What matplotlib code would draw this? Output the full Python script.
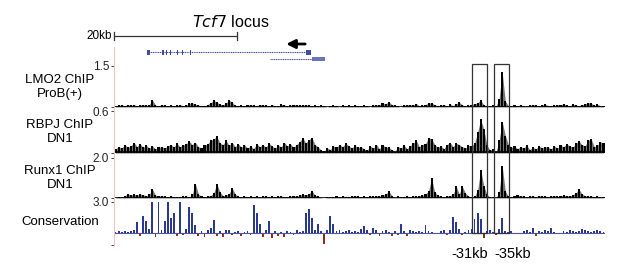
import numpy as np
import matplotlib.pyplot as plt
from matplotlib.patches import Rectangle
from matplotlib.lines import Line2D
import matplotlib.transforms as mtransforms

plt.rcParams['font.family'] = ['Liberation Sans', 'DejaVu Sans']

# genomic window in kb, 0.5 kb bins
region_kb = 80
bin_kb = 0.5

# LMO2 ChIP ProB(+) signal (x0.01)
lmo2 = [3, 6, 8, 5, 9, 6, 8, 5, 7, 9, 6, 8, 26, 7, 5, 8,
        6, 5, 7, 4, 6, 8, 5, 6, 14, 15, 10, 8, 2, 3, 9, 16,
        24, 18, 10, 8, 14, 26, 17, 6, 5, 6, 4, 7, 8, 6, 5, 9,
        7, 6, 4, 8, 5, 3, 10, 7, 4, 6, 9, 8, 6, 7, 8, 6,
        5, 7, 2, 6, 4, 0, 5, 6, 4, 0, 7, 3, 6, 2, 8, 4,
        2, 6, 4, 0, 7, 8, 9, 14, 10, 20, 9, 6, 2, 0, 6, 9,
        8, 7, 12, 5, 6, 9, 14, 16, 8, 4, 6, 9, 3, 10, 5, 12,
        18, 8, 3, 6, 9, 12, 16, 24, 8, 4, 2, 6, 4, 30, 128, 22,
        5, 3, 6, 5, 8, 4, 2, 6, 9, 7, 3, 8, 10, 5, 2, 6,
        9, 8, 12, 6, 4, 10, 7, 5, 8, 12, 16, 14, 6, 10, 5, 3]

# RBPJ ChIP DN1 signal (x0.01)
rbpj = [6, 9, 7, 12, 8, 10, 15, 9, 13, 8, 11, 7, 10, 6, 8, 9,
        7, 10, 12, 8, 14, 9, 11, 13, 17, 12, 15, 9, 7, 11, 13, 18,
        20, 24, 14, 12, 18, 11, 15, 9, 13, 8, 12, 7, 10, 6, 13, 9,
        12, 8, 14, 10, 7, 11, 9, 15, 10, 13, 8, 12, 16, 22, 14, 19,
        22, 12, 9, 4, 3, 7, 5, 10, 8, 12, 9, 14, 10, 7, 11, 8,
        9, 6, 4, 10, 7, 12, 6, 11, 9, 8, 5, 2, 9, 7, 11, 6,
        10, 14, 18, 9, 12, 13, 22, 20, 12, 8, 10, 6, 12, 15, 9, 14,
        12, 9, 7, 11, 10, 14, 30, 48, 34, 12, 4, 6, 2, 18, 45, 25,
        12, 8, 10, 6, 9, 7, 11, 5, 8, 6, 10, 7, 9, 8, 6, 10,
        7, 11, 9, 13, 10, 8, 14, 17, 12, 10, 18, 20, 9, 11, 16, 14]

# Runx1 ChIP DN1 signal (x0.01)
runx1 = [2, 3, 4, 12, 20, 15, 18, 14, 20, 16, 12, 18, 45, 14, 10, 12,
         8, 6, 10, 7, 4, 6, 8, 10, 5, 18, 72, 20, 8, 6, 10, 12,
         25, 72, 30, 12, 14, 22, 50, 20, 8, 5, 10, 6, 9, 7, 10, 5,
         8, 10, 6, 9, 5, 8, 10, 7, 6, 9, 12, 8, 14, 18, 16, 20,
         37, 14, 8, 2, 0, 3, 6, 4, 8, 5, 10, 7, 6, 9, 12, 8,
         6, 8, 5, 10, 8, 12, 9, 14, 18, 37, 12, 2, 8, 6, 4, 9,
         7, 10, 8, 12, 14, 20, 35, 100, 30, 14, 8, 6, 10, 12, 18, 58,
         20, 58, 25, 10, 6, 8, 40, 142, 60, 18, 4, 3, 2, 30, 160, 35,
         8, 6, 10, 14, 12, 8, 6, 9, 10, 7, 12, 8, 10, 6, 9, 12,
         8, 10, 14, 12, 9, 16, 25, 45, 20, 12, 8, 10, 6, 9, 7, 5]

# Conservation score (x0.1)
cons = [1, 2, 1, 2, 1, 2, 3, 10, -3, 16, 11, 4, 30, -4, 30, 3,
        11, 30, 14, 19, -3, 30, -2, 4, 25, 19, 8, -3, 2, -4, 3, 5,
        12, -3, 2, -4, 3, 3, -2, 1, 2, -3, 1, 2, -2, 27, 19, 9,
        -4, 3, 11, -5, 2, -3, 1, -4, 2, 1, -2, 3, 1, 2, 19, 23,
        14, 3, 9, 2, -11, 3, 16, 9, 2, 3, 1, 2, 3, 1, 2, 1,
        4, 7, 3, -2, 5, 3, -3, 2, 3, 1, -3, 2, -2, 9, 2, -3,
        3, 2, 1, 2, 1, 8, 2, 1, 0, 0, 2, 3, -2, 3, 15, 10,
        4, -2, 1, 3, 4, 13, 19, 13, -5, 2, 3, 1, -2, 4, 14, 2,
        1, 2, 0, 0, 0, 2, 3, 1, 5, -3, 2, 1, 3, 2, 5, 1,
        0, 0, 2, 1, 3, 2, 1, 2, 4, 3, 2, 1, 2, 3, 2, 1]

track_names = ['LMO2 ChIP\nProB(+)', 'RBPJ ChIP\nDN1', 'Runx1 ChIP\nDN1', 'Conservation']
track_max = [1.5, 0.6, 2.0, 3.0]
track_labels = ['1.5', '0.6', '2.0', '3.0']

# Tcf7 transcripts (kb)
tx1 = (5.4, 31.9)
tx1_exons = [(5.3, 5.8), (7.9, 8.1), (8.5, 8.7), (9.1, 9.3), (10.2, 10.4),
             (11.1, 11.3), (12.4, 12.6), (31.3, 32.1)]
tx2 = (25.4, 32.3)
tx2_block = (32.3, 34.4)

# enhancer boxes (kb) and their labels
boxes = [(58.3, 60.8), (61.9, 64.4)]
box_labels = ['-31kb', '-35kb']
box_label_x = [57.9, 64.9]

W, H = 617, 271
fig = plt.figure(figsize=(W / 100, H / 100), dpi=100)


def px_axes(top, bottom):
    return fig.add_axes([114 / W, (H - bottom) / H, 491 / W, (bottom - top) / H])


x = np.arange(len(lmo2)) * bin_kb + bin_kb / 2
gene_blue = '#3f4ba6'

# top panel: title, scale bar, gene model
ax0 = px_axes(0, 64)
ax0.set_xlim(0, region_kb)
ax0.set_ylim(64, 0)
ax0.axis('off')
ax0.text(19.0, 22, r'$\mathit{Tcf7}$ locus', fontsize=11.5, ha='center', va='center')
ax0.plot([0, 20], [36, 36], color='#333333', lw=0.9, clip_on=False)
ax0.plot([0, 0], [32, 40], color='#333333', lw=0.9, clip_on=False)
ax0.plot([20, 20], [32, 40], color='#333333', lw=0.9, clip_on=False)
ax0.text(-0.4, 36, '20kb', fontsize=8.5, ha='right', va='center')
ax0.plot(tx1, [52, 52], color=gene_blue, lw=0.8, ls=(0, (1, 0.6)))
for s, e in tx1_exons:
    ax0.add_patch(Rectangle((s, 49.5), e - s, 5, color=gene_blue, lw=0))
ax0.plot(tx2, [59, 59], color=gene_blue, lw=0.8, ls=(0, (1, 0.6)))
ax0.add_patch(Rectangle((tx2_block[0], 57), tx2_block[1] - tx2_block[0], 4,
                        color='#6a74b8', lw=0))
ax0.annotate('', xy=(27.6, 44), xytext=(31.6, 44),
             arrowprops=dict(arrowstyle='-|>', color='black', lw=2,
                             mutation_scale=13))

# signal tracks
pos = [(66, 107), (111, 153), (158, 198), (202, 245)]
data = [np.array(lmo2) / 100, np.array(rbpj) / 100, np.array(runx1) / 100,
        np.array(cons) / 10]
label_y = [87, 132, 178, 222]
axes = []
for i, (top, bottom) in enumerate(pos):
    ax = px_axes(top, bottom)
    axes.append(ax)
    v = data[i]
    if i < 3:
        ax.bar(x, v, width=0.34, color='black', lw=0)
        ax.fill_between(x, 0, v, color='black', alpha=0.55, lw=0)
        ax.axhline(0.012 * track_max[i], color='black', lw=1.2)
        ax.set_ylim(0, track_max[i])
        ax.set_yticks([0, track_max[i]])
        ax.set_yticklabels(['', track_labels[i]])
    else:
        pos_v = np.clip(v, 0, None)
        neg_v = np.clip(v, None, 0)
        ax.bar(x, pos_v, width=0.3, color='#2a3890', lw=0)
        ax.bar(x, neg_v, width=0.3, color='#8a2c22', lw=0)
        ax.axhline(0, color='#4a56a8', lw=0.8)
        ax.set_ylim(-1.2, track_max[i])
        ax.set_yticks([-1.2, track_max[i]])
        ax.set_yticklabels(['', track_labels[i]])
    ax.set_xlim(0, region_kb)
    ax.set_xticks([])
    for sp in ax.spines.values():
        sp.set_visible(False)
    ax.tick_params(axis='y', length=2.5, width=0.6, pad=1, labelsize=8.5,
                   colors='#222222')
    fig.text(60 / W, (H - label_y[i]) / H, track_names[i], fontsize=9.5,
             ha='center', va='center', linespacing=1.2)

# pale left border line
fig.add_artist(Line2D([114 / W, 114 / W], [(H - 47) / H, (H - 246) / H],
                      color='#f2c4c4', lw=0.8))

# enhancer boxes
trans = mtransforms.blended_transform_factory(axes[0].transData, fig.transFigure)
for (s, e) in boxes:
    fig.add_artist(Rectangle((s, (H - 233) / H), e - s, (233 - 64) / H,
                             transform=trans, fill=False, ec='#333333', lw=0.9,
                             clip_on=False))
for lx, lab in zip(box_label_x, box_labels):
    fig.text(lx, (H - 254) / H, lab, transform=trans, fontsize=10.5,
             ha='center', va='center')

fig.savefig('out.png', dpi=100)
